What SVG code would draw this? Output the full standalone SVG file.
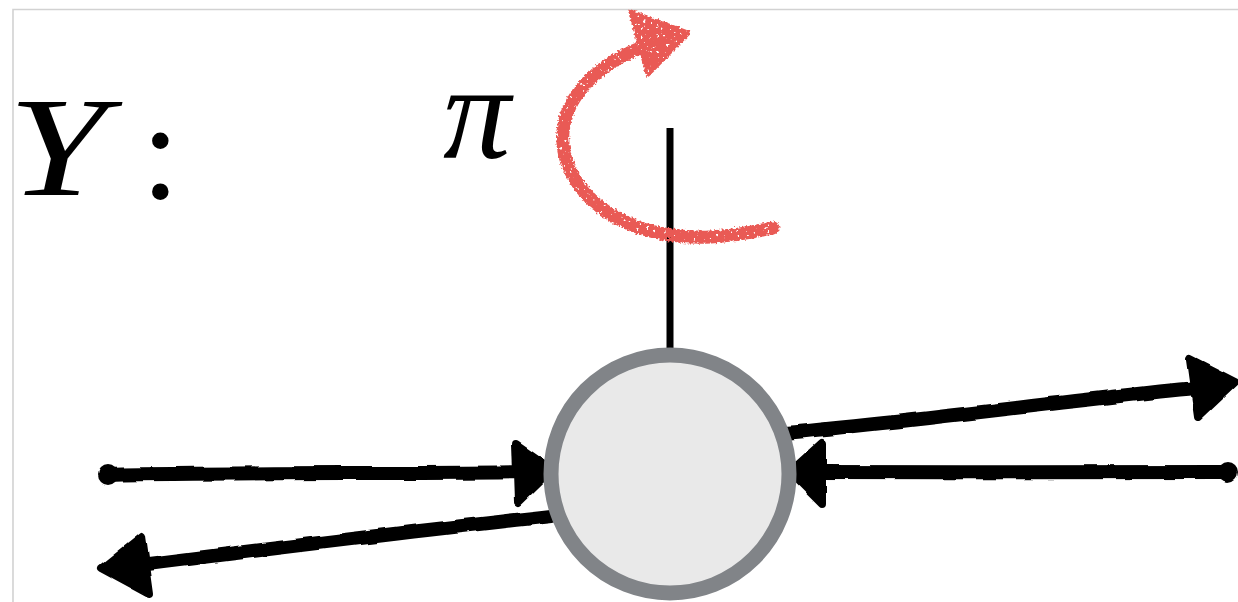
<svg xmlns="http://www.w3.org/2000/svg" width="1238" height="602" viewBox="0 0 1238 602">
  <style>
    .math { font-family: "Liberation Serif", "DejaVu Serif", serif; font-style: italic; fill: #000; }
    .colon { font-family: "Liberation Serif", "DejaVu Serif", serif; fill: #000; }
    .shaft { fill: none; stroke: #000; stroke-width: 14; stroke-linecap: round; stroke-linejoin: round; }
    .head { fill: #000; stroke: #000; stroke-width: 8; stroke-linejoin: round; }
    .chalk-line { fill: none; stroke: #e95a55; stroke-width: 13; stroke-linecap: round; }
    .chalk-head { fill: #e95a55; stroke: #e95a55; stroke-width: 5; stroke-linejoin: round; }
  </style>
  <defs>
    <!-- slight hand-drawn wobble for the ink strokes -->
    <filter id="wobble" filterUnits="userSpaceOnUse" x="0" y="0" width="1238" height="602">
      <feTurbulence type="fractalNoise" baseFrequency="0.05" numOctaves="1" seed="4" result="n"/>
      <feDisplacementMap in="SourceGraphic" in2="n" scale="5" xChannelSelector="R" yChannelSelector="G"/>
    </filter>
    <!-- rough, speckled crayon texture -->
    <filter id="chalk" filterUnits="userSpaceOnUse" x="0" y="0" width="1238" height="602">
      <feTurbulence type="fractalNoise" baseFrequency="0.5" numOctaves="2" seed="3" result="n"/>
      <feDisplacementMap in="SourceGraphic" in2="n" scale="5" xChannelSelector="R" yChannelSelector="G" result="d"/>
      <feTurbulence type="fractalNoise" baseFrequency="0.3" numOctaves="2" seed="9" result="n2"/>
      <feColorMatrix in="n2" type="matrix" values="0 0 0 0 0  0 0 0 0 0  0 0 0 0 0  -14 0 0 0 10.5" result="mask"/>
      <feComposite in="d" in2="mask" operator="in"/>
    </filter>
  </defs>

  <rect width="1238" height="602" fill="#fff"/>
  <!-- frame -->
  <path d="M13,602 V9.5 H1238" fill="none" stroke="#d2d2d2" stroke-width="1.6"/>

  <!-- Y : label -->
  <g id="label-Y">
    <text class="math" x="8" y="195" font-size="142" transform="translate(8 195) scale(1.25 1) translate(-8 -195)">Y</text>
    <text class="colon" x="141" y="198" font-size="140">:</text>
  </g>

  <!-- pi label -->
  <g id="label-pi">
    <text class="math" x="443" y="158" font-size="135">π</text>
  </g>

  <!-- connectors -->
  <g id="connectors" filter="url(#wobble)">
    <!-- incoming from the left -->
    <circle cx="108" cy="475" r="10"/>
    <path class="shaft" d="M108,475 C250,472 400,474 525,472"/>
    <polygon class="head" points="516,444 552,469 518,502"/>
    <!-- outgoing to the left -->
    <path class="shaft" d="M552,516 C420,530 260,550 132,566"/>
    <polygon class="head" points="102,568 142,536 150,594"/>
    <!-- outgoing to the right -->
    <path class="shaft" d="M785,433 C930,420 1070,400 1205,387"/>
    <polygon class="head" points="1235,382 1190,359 1198,417"/>
    <!-- incoming from the right -->
    <circle cx="1228" cy="472" r="10"/>
    <path class="shaft" d="M1228,472 C1100,471 950,473 812,472"/>
    <polygon class="head" points="822,443 822,504 790,472"/>
  </g>

  <!-- axis of rotation -->
  <g id="axis">
    <line x1="670" y1="128" x2="670" y2="360" stroke="#000" stroke-width="7"/>
  </g>

  <!-- rotation arrow -->
  <g id="rotation" filter="url(#chalk)">
    <path class="chalk-line" d="M773,228 C735,236 690,244 640,228 C590,211 560,172 563,132 C566,96 596,66 640,48"/>
    <polygon class="chalk-head" points="631,12 688,33 648,74"/>
  </g>

  <!-- node -->
  <g id="node">
    <circle cx="670" cy="474" r="119" fill="#e9e9e9" stroke="#818488" stroke-width="15"/>
  </g>
</svg>
